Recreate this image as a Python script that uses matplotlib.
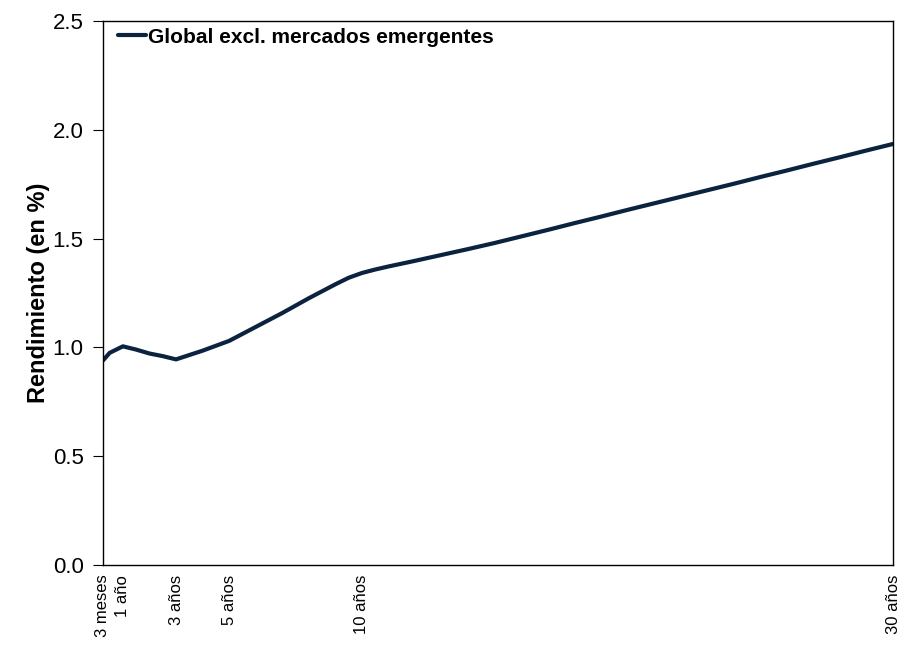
import matplotlib.pyplot as plt

plt.rcParams['font.family'] = ['Liberation Sans', 'DejaVu Sans']

# maturities in years and yields in %
plazos = [0.25, 0.5, 0.75, 1, 1.5, 2, 2.5, 3, 4, 5, 6, 7, 8, 9, 9.5, 10, 10.5, 11,
          12, 13, 14, 15, 16, 17, 18, 19, 20, 21, 22, 23, 24, 25, 26, 27, 28, 29, 30]
rendimiento = [0.94, 0.975, 0.99, 1.005, 0.99, 0.972, 0.96, 0.945, 0.985, 1.03,
               1.094, 1.158, 1.226, 1.29, 1.32, 1.342, 1.358, 1.372, 1.398, 1.425,
               1.452, 1.48, 1.51, 1.54, 1.571, 1.601, 1.632, 1.662, 1.692, 1.722,
               1.752, 1.783, 1.813, 1.844, 1.874, 1.905, 1.935]
tick_pos = [0.25, 1, 3, 5, 10, 30]
tick_lab = ['3 meses', '1 año', '3 años', '5 años', '10 años', '30 años']

fig = plt.figure(figsize=(9.09, 6.61), dpi=100)
ax = fig.add_axes([0.1133, 0.1452, 0.8691, 0.823])

ax.plot(plazos, rendimiento, color='#0c2340', lw=3, solid_capstyle='round',
        label='Global excl. mercados emergentes')

ax.set_xlim(0.25, 30)
ax.set_ylim(0, 2.5)
ax.set_yticks([0, 0.5, 1.0, 1.5, 2.0, 2.5])
ax.set_yticklabels(['0.0', '0.5', '1.0', '1.5', '2.0', '2.5'], fontsize=16)
ax.set_xticks(tick_pos)
ax.set_xticklabels(tick_lab, rotation=90, fontsize=12)
ax.tick_params(axis='x', length=0, pad=7)
ax.tick_params(axis='y', direction='out', length=7, pad=7)
ax.set_ylabel('Rendimiento (en %)', fontsize=17, fontweight='bold', labelpad=2)

for s in ax.spines.values():
    s.set_linewidth(1)

leg = ax.legend(loc='upper left', frameon=False, fontsize=15, handlelength=1.3,
                handletextpad=0.1, borderaxespad=0.0, bbox_to_anchor=(0.009, 1.003))
for t in leg.get_texts():
    t.set_fontweight('bold')

fig.savefig('out.png', dpi=100)
